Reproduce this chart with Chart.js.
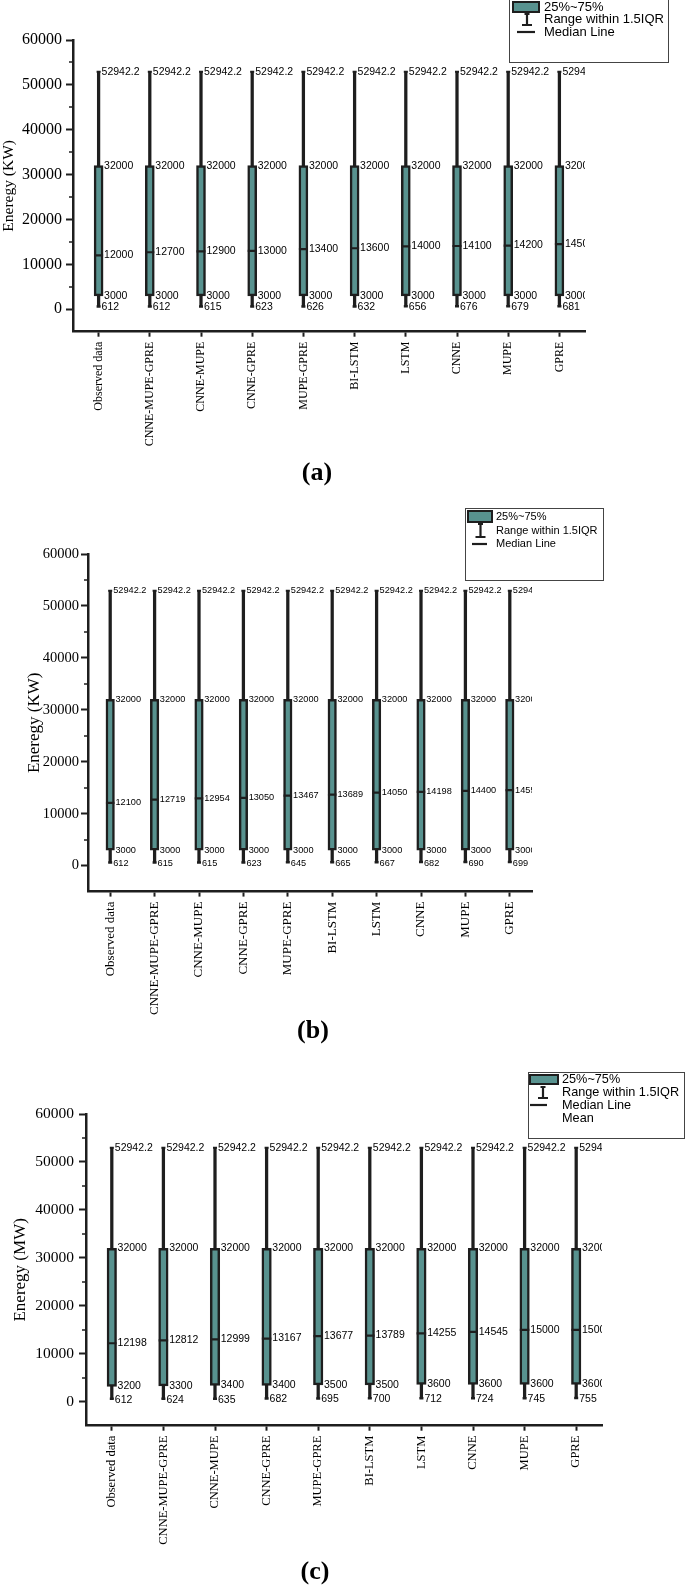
<!DOCTYPE html>
<html>
<head>
<meta charset="utf-8">
<script src="https://cdn.jsdelivr.net/npm/chart.js@4.4.0/dist/chart.umd.min.js"></script>
<style>
  body { margin: 0; background: #fff; width: 685px; height: 1587px; position: relative; overflow: hidden; }
  canvas { position: absolute; left: 0; }
  .tag { position: absolute; font: bold 26px "Liberation Serif", serif; color: #000; transform: translate(-50%, -50%); }
</style>
</head>
<body>
<canvas id="chartA" width="685" height="500" style="top:0px"></canvas>
<canvas id="chartB" width="685" height="545" style="top:500px"></canvas>
<canvas id="chartC" width="685" height="542" style="top:1045px"></canvas>
<div class="tag" style="left:317px;top:472px">(a)</div>
<div class="tag" style="left:313px;top:1030px">(b)</div>
<div class="tag" style="left:315px;top:1571px">(c)</div>
<script>
// categories and box statistics
var categories = ['Observed data', 'CNNE-MUPE-GPRE', 'CNNE-MUPE', 'CNNE-GPRE', 'MUPE-GPRE',
                  'BI-LSTM', 'LSTM', 'CNNE', 'MUPE', 'GPRE'];

var maxA = [52942.2, 52942.2, 52942.2, 52942.2, 52942.2, 52942.2, 52942.2, 52942.2, 52942.2, 52942.2];
var q3A  = [32000, 32000, 32000, 32000, 32000, 32000, 32000, 32000, 32000, 32000];
var medA = [12000, 12700, 12900, 13000, 13400, 13600, 14000, 14100, 14200, 14500];
var q1A  = [3000, 3000, 3000, 3000, 3000, 3000, 3000, 3000, 3000, 3000];
var minA = [612, 612, 615, 623, 626, 632, 656, 676, 679, 681];

var maxB = [52942.2, 52942.2, 52942.2, 52942.2, 52942.2, 52942.2, 52942.2, 52942.2, 52942.2, 52942.2];
var q3B  = [32000, 32000, 32000, 32000, 32000, 32000, 32000, 32000, 32000, 32000];
var medB = [12100, 12719, 12954, 13050, 13467, 13689, 14050, 14198, 14400, 14550];
var q1B  = [3000, 3000, 3000, 3000, 3000, 3000, 3000, 3000, 3000, 3000];
var minB = [612, 615, 615, 623, 645, 665, 667, 682, 690, 699];

var maxC = [52942.2, 52942.2, 52942.2, 52942.2, 52942.2, 52942.2, 52942.2, 52942.2, 52942.2, 52942.2];
var q3C  = [32000, 32000, 32000, 32000, 32000, 32000, 32000, 32000, 32000, 32000];
var medC = [12198, 12812, 12999, 13167, 13677, 13789, 14255, 14545, 15000, 15000];
var q1C  = [3200, 3300, 3400, 3400, 3500, 3500, 3600, 3600, 3600, 3600];
var minC = [612, 624, 635, 682, 695, 700, 712, 724, 745, 755];

var yTickValues = [0, 10000, 20000, 30000, 40000, 50000, 60000];
var minorTickValues = [5000, 15000, 25000, 35000, 45000, 55000];
var legendItemsAB = ['25%~75%', 'Range within 1.5IQR', 'Median Line'];
var legendItemsC = ['25%~75%', 'Range within 1.5IQR', 'Median Line', 'Mean'];

var teal = '#58928f';
var dark = '#1e1e1e';
var serif = '"Liberation Serif", "Times New Roman", serif';
var sans = '"Liberation Sans", Arial, sans-serif';

// number labels next to each box
var boxLabels = {
  id: 'boxLabels',
  afterDatasetsDraw: function (chart, args, o) {
    var ctx = chart.ctx, xs = chart.scales.x, ys = chart.scales.y, a = chart.chartArea;
    var ds = chart.data.datasets;
    ctx.save();
    ctx.beginPath();
    ctx.rect(a.left, 0, a.right - a.left, chart.height);
    ctx.clip();
    ctx.font = o.size + 'px ' + sans;
    ctx.fillStyle = '#000';
    ctx.textBaseline = 'middle';
    ctx.textAlign = 'left';
    categories.forEach(function (c, i) {
      var cx = xs.getPixelForValue(i);
      var w = ds[0].data[i], b = ds[1].data[i], m = ds[2].data[i];
      ctx.fillText(String(w[1]), cx + 3, ys.getPixelForValue(w[1]));
      ctx.fillText(String(b[1]), cx + o.half + 1, ys.getPixelForValue(b[1]));
      ctx.fillText(String(m), cx + o.half + 1, ys.getPixelForValue(m));
      ctx.fillText(String(b[0]), cx + o.half + 1, ys.getPixelForValue(b[0]));
      ctx.fillText(String(w[0]), cx + 3, ys.getPixelForValue(w[0]) + 1);
    });
    ctx.restore();
  }
};

var minorTicks = {
  id: 'minorTicks',
  afterDraw: function (chart) {
    var ctx = chart.ctx, ys = chart.scales.y, l = chart.chartArea.left;
    ctx.save();
    ctx.strokeStyle = dark;
    ctx.lineWidth = 1.5;
    minorTickValues.forEach(function (v) {
      var py = Math.round(ys.getPixelForValue(v));
      ctx.beginPath();
      ctx.moveTo(l - 4, py);
      ctx.lineTo(l, py);
      ctx.stroke();
    });
    ctx.restore();
  }
};

// the framed legend in the top right
var legendBox = {
  id: 'legendBox',
  afterDraw: function (chart, args, o) {
    var ctx = chart.ctx;
    ctx.save();
    ctx.strokeStyle = '#444';
    ctx.lineWidth = 1;
    ctx.strokeRect(o.box[0] + 0.5, o.box[1] + 0.5, o.box[2] - o.box[0], o.box[3] - o.box[1]);
    ctx.fillStyle = teal;
    ctx.fillRect(o.sw[0], o.sw[1], o.sw[2] - o.sw[0], o.sw[3] - o.sw[1]);
    ctx.strokeStyle = dark;
    ctx.lineWidth = 2;
    ctx.strokeRect(o.sw[0] + 1, o.sw[1] + 1, o.sw[2] - o.sw[0] - 2, o.sw[3] - o.sw[1] - 2);
    // whisker icon
    ctx.lineWidth = 2.2;
    ctx.beginPath();
    ctx.moveTo(o.wx, o.wy[0]); ctx.lineTo(o.wx, o.wy[1]);
    ctx.moveTo(o.wx - 2.5, o.wy[0]); ctx.lineTo(o.wx + 2.5, o.wy[0]);
    ctx.moveTo(o.wx - 5, o.wy[1]); ctx.lineTo(o.wx + 5, o.wy[1]);
    ctx.stroke();
    // median icon
    ctx.beginPath();
    ctx.moveTo(o.mx[0], o.my); ctx.lineTo(o.mx[1], o.my);
    ctx.stroke();
    ctx.fillStyle = '#000';
    ctx.font = o.size + 'px ' + sans;
    ctx.textBaseline = 'middle';
    ctx.textAlign = 'left';
    o.items.forEach(function (t, i) { ctx.fillText(t, o.tx, o.rows[i]); });
    ctx.restore();
  }
};

function boxChart(id, s, cfg) {
  var ctx = document.getElementById(id).getContext('2d');
  return new Chart(ctx, {
    type: 'bar',
    data: {
      labels: categories,
      datasets: [
        { label: 'whisker', data: s.min.map(function (v, i) { return [v, s.max[i]]; }),
          backgroundColor: dark, barThickness: 2.6, grouped: false, order: 3 },
        { label: 'box', data: s.q1.map(function (v, i) { return [v, s.q3[i]]; }),
          backgroundColor: teal, borderColor: dark, borderWidth: 2.5, borderSkipped: false,
          barThickness: cfg.box, grouped: false, order: 2 },
        { type: 'line', label: 'median', data: s.med, showLine: false, pointStyle: 'line',
          pointRadius: cfg.box / 2, pointBorderWidth: 2.2, pointBorderColor: dark, order: 1 },
        { type: 'line', label: 'capMax', data: s.max, showLine: false, pointStyle: 'line',
          pointRadius: 2, pointBorderWidth: 2, pointBorderColor: dark, order: 1 },
        { type: 'line', label: 'capMin', data: s.min, showLine: false, pointStyle: 'line',
          pointRadius: 2, pointBorderWidth: 2.5, pointBorderColor: dark, order: 1 }
      ]
    },
    options: {
      responsive: false,
      animation: false,
      devicePixelRatio: 1,
      events: [],
      layout: { padding: { top: cfg.top, right: cfg.right, left: 0, bottom: 0 } },
      plugins: {
        legend: { display: false },
        tooltip: { enabled: false },
        boxLabels: { size: cfg.valFont, half: cfg.box / 2 },
        legendBox: cfg.legend
      },
      scales: {
        x: {
          offset: true,
          grid: { offset: false, drawOnChartArea: false, tickLength: 5, tickColor: dark, tickWidth: 2 },
          border: { display: true, color: dark, width: 2.5 },
          ticks: { autoSkip: false, minRotation: 90, maxRotation: 90, padding: 5, color: '#000',
                   font: { family: serif, size: cfg.xFont } },
          afterFit: function (sc) { sc.height = cfg.xh; }
        },
        y: {
          min: -5000,
          max: 60000,
          afterBuildTicks: function (sc) { sc.ticks = yTickValues.map(function (v) { return { value: v }; }); },
          ticks: { padding: cfg.yPad, color: '#000', font: { family: serif, size: cfg.yFont },
                   callback: function (v) { return String(v); } },
          grid: { drawOnChartArea: false, tickLength: 7, tickColor: dark, tickWidth: 2 },
          border: { display: true, color: dark, width: 2.5 },
          title: { display: true, text: cfg.title, color: '#000', font: { family: serif, size: cfg.titleSize },
                   padding: { top: cfg.titlePad, bottom: 0 } },
          afterFit: function (sc) { sc.width = cfg.yw; }
        }
      }
    },
    plugins: [boxLabels, minorTicks, legendBox]
  });
}

boxChart('chartA', { max: maxA, q3: q3A, med: medA, q1: q1A, min: minA }, {
  top: 40, right: 100, yw: 73, xh: 168.3, yFont: 16, yPad: 4, xFont: 12,
  title: 'Eneregy (KW)', titleSize: 15.5, titlePad: 0, box: 9, valFont: 10.5,
  legend: { box: [509, -2, 668, 62], sw: [512, 1, 540, 13], tx: 544, rows: [7, 19.5, 32], size: 13,
            wx: 527, wy: [14, 25], mx: [517, 535], my: 32, items: legendItemsAB }
});

boxChart('chartB', { max: maxB, q3: q3B, med: medB, q1: q1B, min: minB }, {
  top: 54, right: 153, yw: 88, xh: 153.4, yFont: 14.5, yPad: 2, xFont: 13,
  title: 'Eneregy (KW)', titleSize: 17, titlePad: 24, box: 8.5, valFont: 9.2,
  legend: { box: [465, 8, 603, 80], sw: [467, 10, 493, 23], tx: 496, rows: [17, 31, 44], size: 11,
            wx: 480.5, wy: [24, 37], mx: [472, 487], my: 44, items: legendItemsAB }
});

boxChart('chartC', { max: maxC, q3: q3C, med: medC, q1: q1C, min: minC }, {
  top: 69, right: 83, yw: 86, xh: 161.3, yFont: 15.5, yPad: 5, xFont: 12.5,
  title: 'Eneregy (MW)', titleSize: 17, titlePad: 10, box: 9.5, valFont: 10.5,
  legend: { box: [528, 27, 684, 93], sw: [529, 29, 559, 40], tx: 562, rows: [34, 47, 60, 73], size: 12.7,
            wx: 543, wy: [42, 53], mx: [530, 547], my: 60, items: legendItemsC }
});
</script>
</body>
</html>
